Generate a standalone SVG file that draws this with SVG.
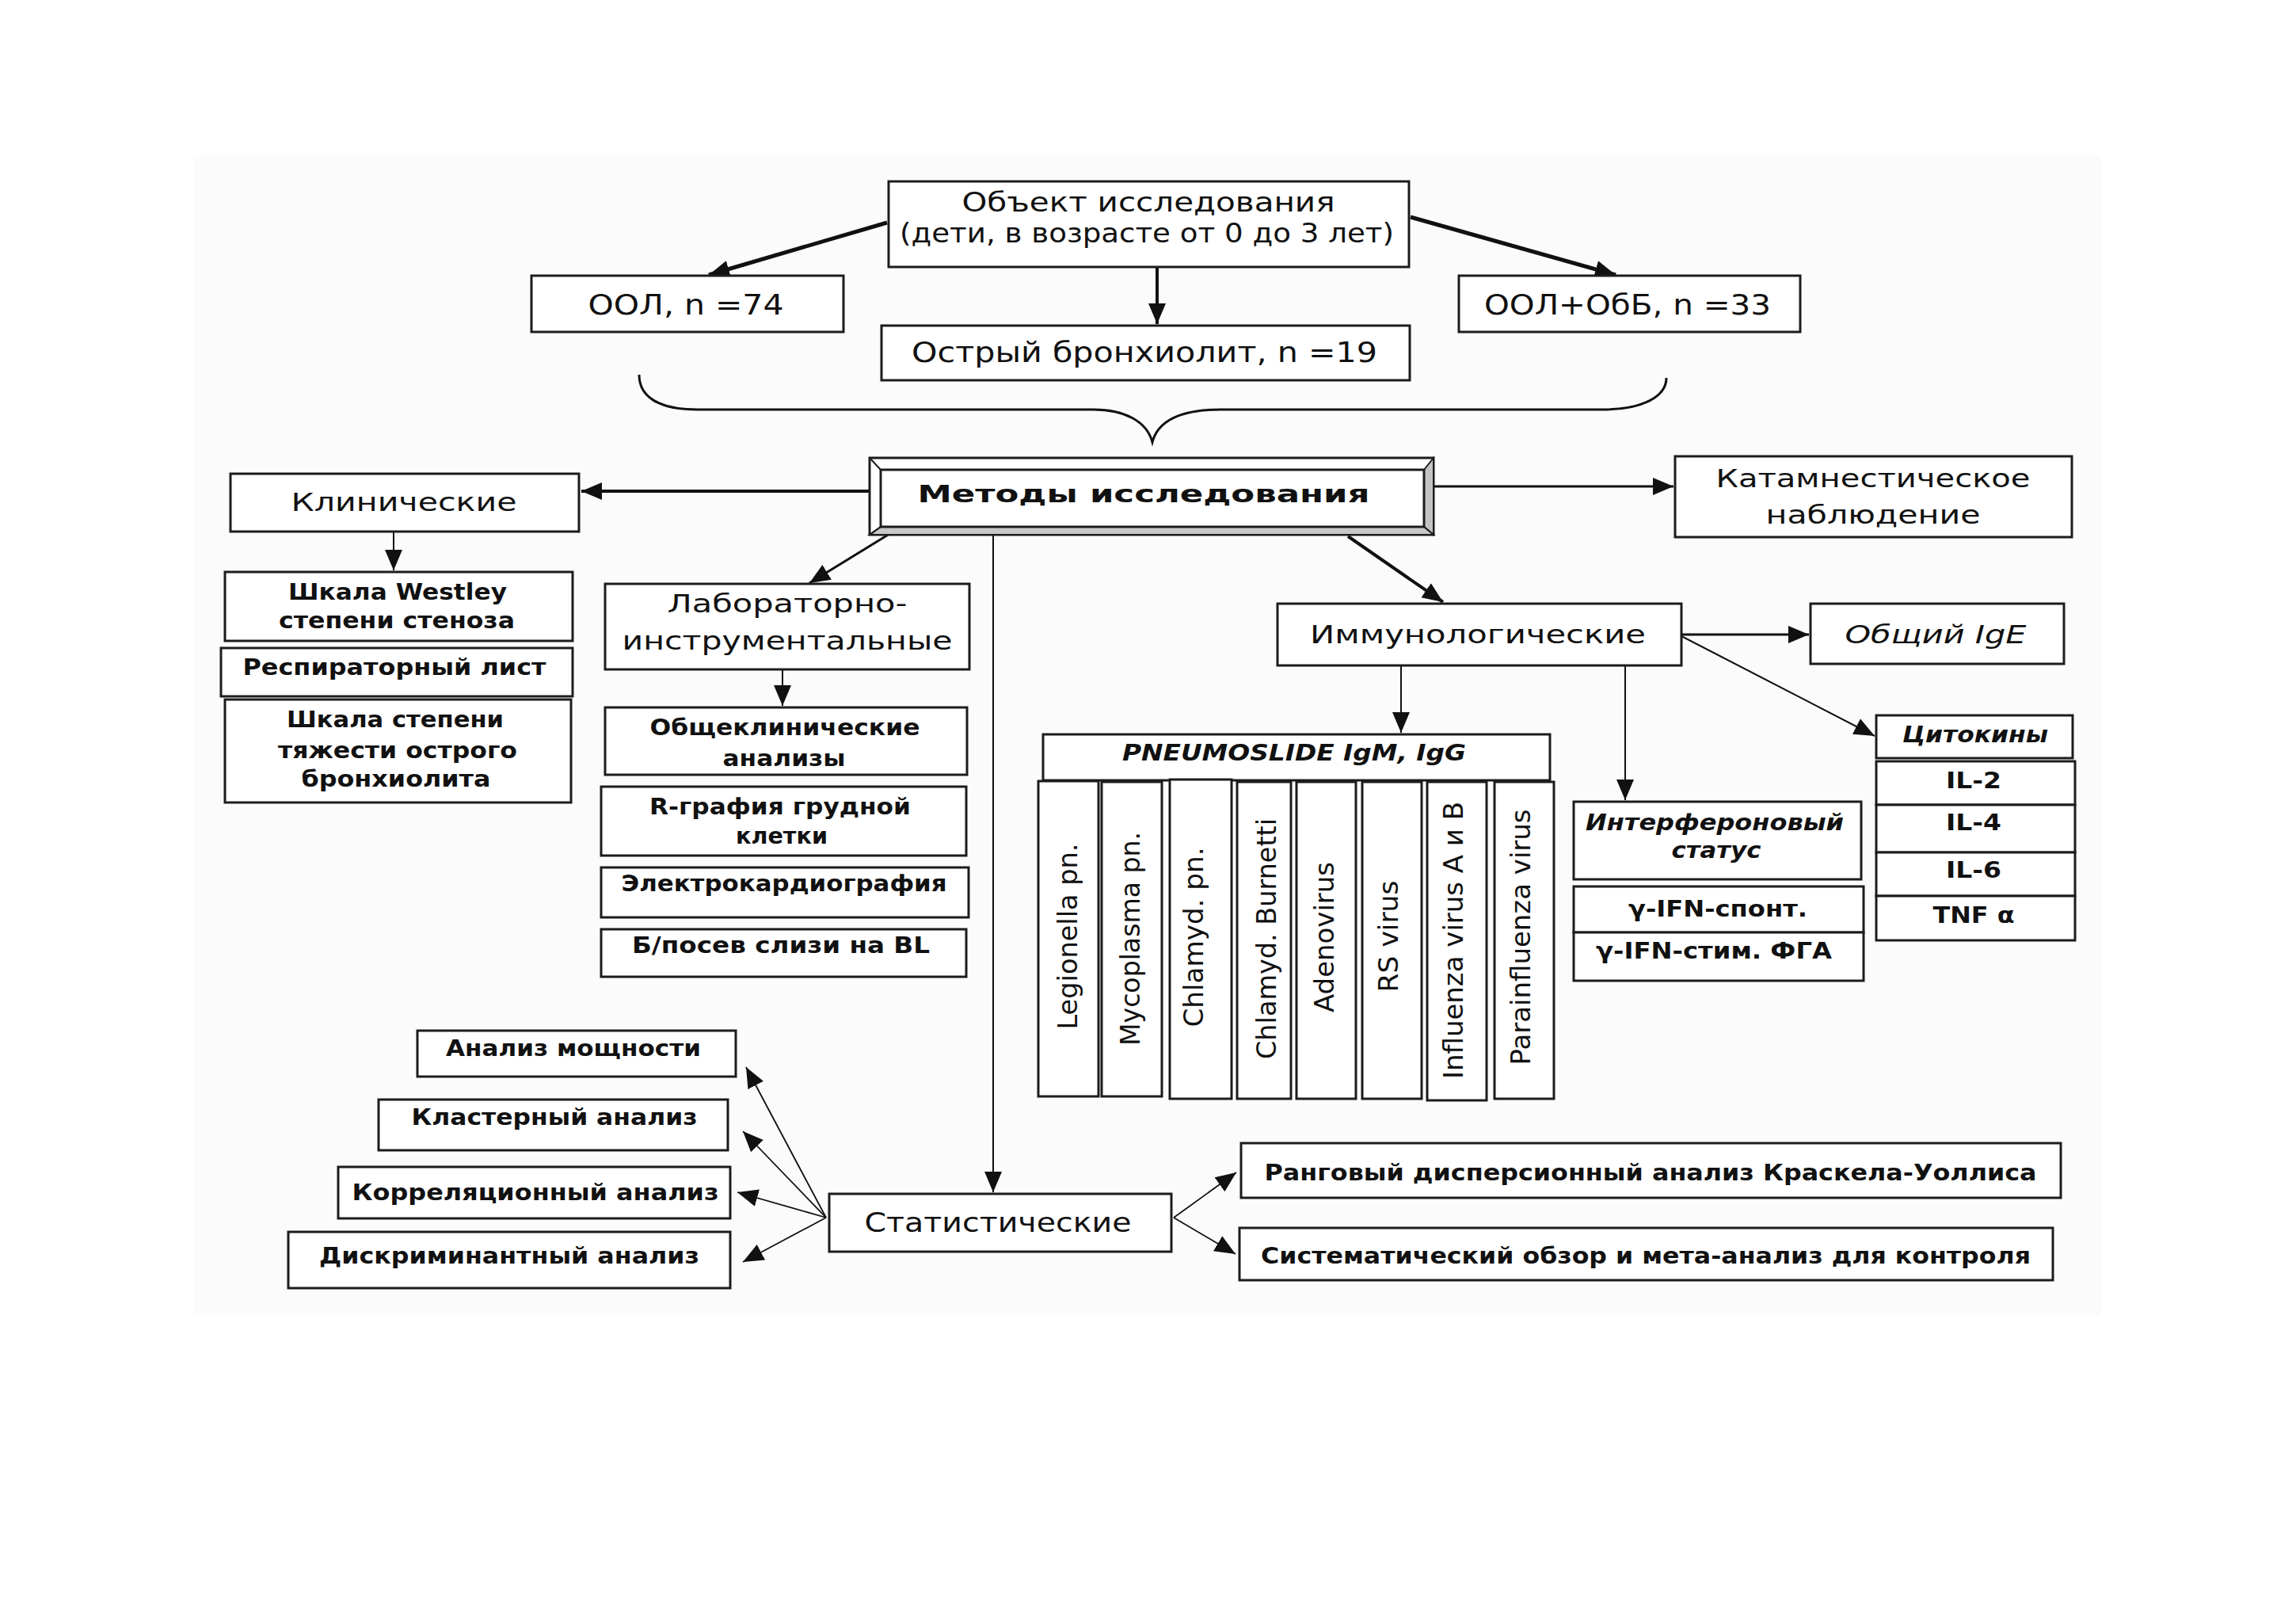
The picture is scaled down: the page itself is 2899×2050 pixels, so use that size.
<svg xmlns="http://www.w3.org/2000/svg" width="2899" height="2050" viewBox="0 0 2899 2050">
<defs>
<style>
.bx{fill:#fff;stroke:#1c1c1c;stroke-width:3}
text{font-family:"DejaVu Sans",Verdana,"Liberation Sans",sans-serif;fill:#111;text-anchor:middle}
.r{font-size:33px}
.b{font-size:28px;font-weight:bold}
.i{font-style:italic}
.ln{fill:none;stroke:#111;stroke-width:2}
.a{marker-end:url(#ah)}
</style>
<marker id="ah" markerUnits="userSpaceOnUse" markerWidth="30" markerHeight="26" refX="26" refY="12" orient="auto" viewBox="0 0 30 26"><path d="M0,1 L26,12 L0,23 z" fill="#111"/></marker>
</defs>
<rect x="0" y="0" width="2899" height="2050" fill="#fff"/>
<rect x="244" y="196" width="2409" height="1464" fill="#fbfbfb"/>

<g id="connectors">
<path class="ln a" style="stroke-width:5" d="M1120,281 L895,347"/>
<path class="ln a" style="stroke-width:4" d="M1461,337 L1461,409"/>
<path class="ln a" style="stroke-width:5" d="M1781,274 L2040,347"/>
<path class="ln" style="stroke-width:3" d="M807,473 C807,500 830,517 881,517 L1381,517 C1420,517 1448,532 1455,558 C1462,532 1490,517 1541,517 L2024,517 C2075,517 2104,500 2104,477"/>
<path class="ln a" style="stroke-width:4" d="M1098,620 L734,620"/>
<path class="ln a" style="stroke-width:3" d="M1810,614 L2113,614"/>
<path class="ln a" d="M497,671 L497,720"/>
<path class="ln a" style="stroke-width:3" d="M1123,674 L1022,736"/>
<path class="ln a" d="M988,845 L988,891"/>
<path class="ln a" d="M1254,675 L1254,1505"/>
<path class="ln a" style="stroke-width:4" d="M1702,677 L1822,760"/>
<path class="ln a" style="stroke-width:3" d="M2123,801 L2284,801"/>
<path class="ln a" d="M2123,803 L2367,929"/>
<path class="ln a" d="M1769,840 L1769,925"/>
<path class="ln a" d="M2052,840 L2052,1010"/>
<path class="ln a" style="stroke-width:1.8" d="M1043,1537 L942,1347"/>
<path class="ln a" style="stroke-width:1.8" d="M1043,1537 L938,1428"/>
<path class="ln a" style="stroke-width:1.8" d="M1043,1537 L931,1505"/>
<path class="ln a" style="stroke-width:1.8" d="M1043,1537 L938,1593"/>
<path class="ln a" style="stroke-width:1.8" d="M1482,1537 L1561,1480"/>
<path class="ln a" style="stroke-width:1.8" d="M1482,1537 L1560,1583"/>
</g>

<g id="object">
<rect class="bx" x="1122" y="229" width="657" height="108"/>
<text class="r" x="1450" y="267" style="font-size:34px" textLength="471" lengthAdjust="spacingAndGlyphs">Объект исследования</text>
<text class="r" x="1448" y="306" style="font-size:34px" textLength="624" lengthAdjust="spacingAndGlyphs">(дети, в возрасте от 0 до 3 лет)</text>
</g>
<g id="ool">
<rect class="bx" x="671" y="348" width="394" height="71"/>
<text class="r" x="866" y="397" style="font-size:35px" textLength="247" lengthAdjust="spacingAndGlyphs">ООЛ, n =74</text>
</g>
<g id="bronch">
<rect class="bx" x="1113" y="411" width="667" height="69"/>
<text class="r" x="1445" y="457" style="font-size:35px" textLength="588" lengthAdjust="spacingAndGlyphs">Острый бронхиолит, n =19</text>
</g>
<g id="oolobb">
<rect class="bx" x="1842" y="348" width="431" height="71"/>
<text class="r" x="2055" y="397" style="font-size:35px" textLength="362" lengthAdjust="spacingAndGlyphs">ООЛ+ОбБ, n =33</text>
</g>

<g id="methods">
<rect class="bx" x="1098" y="578" width="712" height="97"/>
<path d="M1798,593 L1810,578 L1810,675 L1798,665 Z" fill="#c4c4c4" stroke="#1c1c1c" stroke-width="2"/>
<path d="M1112,665 L1798,665 L1810,675 L1098,675 Z" fill="#c8c8c8" stroke="#1c1c1c" stroke-width="2"/>
<path d="M1098,578 L1112,593 M1098,675 L1112,665" stroke="#1c1c1c" stroke-width="2"/>
<rect class="bx" x="1112" y="593" width="686" height="72"/>
<text class="b" x="1444" y="634" style="font-size:31px" textLength="571" lengthAdjust="spacingAndGlyphs">Методы исследования</text>
</g>

<g id="clinical">
<rect class="bx" x="291" y="598" width="440" height="73"/>
<text class="r" x="510" y="645" style="font-size:32px" textLength="285" lengthAdjust="spacingAndGlyphs">Клинические</text>
</g>
<g id="katamn">
<rect class="bx" x="2115" y="576" width="501" height="102"/>
<text class="r" x="2365" y="615" style="font-size:32px" textLength="397" lengthAdjust="spacingAndGlyphs">Катамнестическое</text>
<text class="r" x="2365" y="661" style="font-size:32px" textLength="271" lengthAdjust="spacingAndGlyphs">наблюдение</text>
</g>

<g id="westley">
<rect class="bx" x="284" y="722" width="439" height="87"/>
<text class="b" x="502" y="757" textLength="276" lengthAdjust="spacingAndGlyphs">Шкала Westley</text>
<text class="b" x="501" y="793" textLength="298" lengthAdjust="spacingAndGlyphs">степени стеноза</text>
</g>
<g id="resp">
<rect class="bx" x="279" y="818" width="444" height="61"/>
<text class="b" x="498" y="852" textLength="383" lengthAdjust="spacingAndGlyphs">Респираторный лист</text>
</g>
<g id="severity">
<rect class="bx" x="284" y="883" width="437" height="130"/>
<text class="b" x="499" y="918" textLength="274" lengthAdjust="spacingAndGlyphs">Шкала степени</text>
<text class="b" x="502" y="957" textLength="302" lengthAdjust="spacingAndGlyphs">тяжести острого</text>
<text class="b" x="500" y="993" textLength="239" lengthAdjust="spacingAndGlyphs">бронхиолита</text>
</g>

<g id="lab">
<rect class="bx" x="764" y="737" width="460" height="108"/>
<text class="r" x="994" y="773" style="font-size:32px" textLength="303" lengthAdjust="spacingAndGlyphs">Лабораторно-</text>
<text class="r" x="994" y="820" style="font-size:32px" textLength="417" lengthAdjust="spacingAndGlyphs">инструментальные</text>
</g>
<g id="general">
<rect class="bx" x="764" y="893" width="457" height="85"/>
<text class="b" x="991" y="928" textLength="341" lengthAdjust="spacingAndGlyphs">Общеклинические</text>
<text class="b" x="990" y="967" textLength="155" lengthAdjust="spacingAndGlyphs">анализы</text>
</g>
<g id="xray">
<rect class="bx" x="759" y="993" width="461" height="87"/>
<text class="b" x="985" y="1028" textLength="330" lengthAdjust="spacingAndGlyphs">R-графия грудной</text>
<text class="b" x="987" y="1065" textLength="116" lengthAdjust="spacingAndGlyphs">клетки</text>
</g>
<g id="ecg">
<rect class="bx" x="759" y="1095" width="464" height="63"/>
<text class="b" x="990" y="1125" textLength="411" lengthAdjust="spacingAndGlyphs">Электрокардиография</text>
</g>
<g id="culture">
<rect class="bx" x="759" y="1173" width="461" height="60"/>
<text class="b" x="986" y="1203" textLength="376" lengthAdjust="spacingAndGlyphs">Б/посев слизи на BL</text>
</g>

<g id="immuno">
<rect class="bx" x="1613" y="762" width="510" height="78"/>
<text class="r" x="1866" y="812" style="font-size:32px" textLength="424" lengthAdjust="spacingAndGlyphs">Иммунологические</text>
</g>
<g id="ige">
<rect class="bx" x="2286" y="762" width="320" height="76"/>
<text class="r i" x="2444" y="812" style="font-size:32px" textLength="229" lengthAdjust="spacingAndGlyphs">Общий IgE</text>
</g>
<g id="cytokines">
<rect class="bx" x="2369" y="903" width="248" height="54"/>
<text class="b i" x="2494" y="937" textLength="184" lengthAdjust="spacingAndGlyphs">Цитокины</text>
<rect class="bx" x="2369" y="961" width="251" height="55"/>
<text class="b" x="2492" y="995" textLength="70" lengthAdjust="spacingAndGlyphs">IL-2</text>
<rect class="bx" x="2369" y="1016" width="251" height="60"/>
<text class="b" x="2492" y="1048" textLength="70" lengthAdjust="spacingAndGlyphs">IL-4</text>
<rect class="bx" x="2369" y="1076" width="251" height="55"/>
<text class="b" x="2492" y="1108" textLength="70" lengthAdjust="spacingAndGlyphs">IL-6</text>
<rect class="bx" x="2369" y="1131" width="251" height="56"/>
<text class="b" x="2492" y="1165" textLength="103" lengthAdjust="spacingAndGlyphs">TNF α</text>
</g>
<g id="interferon">
<rect class="bx" x="1987" y="1012" width="363" height="98"/>
<text class="b i" x="2165" y="1048" textLength="326" lengthAdjust="spacingAndGlyphs">Интерфероновый</text>
<text class="b i" x="2167" y="1083" textLength="113" lengthAdjust="spacingAndGlyphs">статус</text>
<rect class="bx" x="1987" y="1119" width="366" height="58"/>
<text class="b" x="2169" y="1157" textLength="226" lengthAdjust="spacingAndGlyphs">γ-IFN-спонт.</text>
<rect class="bx" x="1987" y="1177" width="366" height="61"/>
<text class="b" x="2164" y="1210" textLength="298" lengthAdjust="spacingAndGlyphs">γ-IFN-стим. ФГА</text>
</g>

<g id="pneumoslide">
<rect class="bx" x="1317" y="927" width="640" height="58"/>
<text class="b i" x="1634" y="960" textLength="434" lengthAdjust="spacingAndGlyphs">PNEUMOSLIDE IgM, IgG</text>
<rect class="bx" x="1311" y="986" width="76" height="398"/>
<rect class="bx" x="1391" y="987" width="76" height="397"/>
<rect class="bx" x="1477" y="984" width="78" height="403"/>
<rect class="bx" x="1562" y="987" width="68" height="400"/>
<rect class="bx" x="1637" y="987" width="75" height="400"/>
<rect class="bx" x="1720" y="987" width="75" height="400"/>
<rect class="bx" x="1802" y="987" width="75" height="402"/>
<rect class="bx" x="1887" y="987" width="75" height="400"/>
<text class="r" transform="translate(1360,1182) rotate(-90)" textLength="235" lengthAdjust="spacingAndGlyphs">Legionella pn.</text>
<text class="r" transform="translate(1439,1185) rotate(-90)" textLength="270" lengthAdjust="spacingAndGlyphs">Mycoplasma pn.</text>
<text class="r" transform="translate(1519,1183) rotate(-90)" textLength="227" lengthAdjust="spacingAndGlyphs">Chlamyd. pn.</text>
<text class="r" transform="translate(1611,1185) rotate(-90)" textLength="304" lengthAdjust="spacingAndGlyphs">Chlamyd. Burnetti</text>
<text class="r" transform="translate(1684,1183) rotate(-90)" textLength="190" lengthAdjust="spacingAndGlyphs">Adenovirus</text>
<text class="r" transform="translate(1765,1182) rotate(-90)" textLength="141" lengthAdjust="spacingAndGlyphs">RS virus</text>
<text class="r" transform="translate(1847,1187) rotate(-90)" textLength="350" lengthAdjust="spacingAndGlyphs">Influenza virus A и B</text>
<text class="r" transform="translate(1932,1183) rotate(-90)" textLength="323" lengthAdjust="spacingAndGlyphs">Parainfluenza virus</text>
</g>

<g id="power">
<rect class="bx" x="527" y="1301" width="402" height="58"/>
<text class="b" x="724" y="1333" textLength="322" lengthAdjust="spacingAndGlyphs">Анализ мощности</text>
</g>
<g id="cluster">
<rect class="bx" x="478" y="1388" width="441" height="64"/>
<text class="b" x="700" y="1420" textLength="361" lengthAdjust="spacingAndGlyphs">Кластерный анализ</text>
</g>
<g id="correl">
<rect class="bx" x="427" y="1473" width="495" height="65"/>
<text class="b" x="676" y="1515" textLength="463" lengthAdjust="spacingAndGlyphs">Корреляционный анализ</text>
</g>
<g id="discr">
<rect class="bx" x="364" y="1555" width="558" height="71"/>
<text class="b" x="643" y="1595" textLength="480" lengthAdjust="spacingAndGlyphs">Дискриминантный анализ</text>
</g>
<g id="stat">
<rect class="bx" x="1047" y="1507" width="432" height="73"/>
<text class="r" x="1260" y="1555" textLength="337" lengthAdjust="spacingAndGlyphs">Статистические</text>
</g>
<g id="kruskal">
<rect class="bx" x="1567" y="1443" width="1035" height="69"/>
<text class="b" x="2084" y="1490" textLength="975" lengthAdjust="spacingAndGlyphs">Ранговый дисперсионный анализ Краскела-Уоллиса</text>
</g>
<g id="meta">
<rect class="bx" x="1565" y="1550" width="1027" height="66"/>
<text class="b" x="2078" y="1595" textLength="972" lengthAdjust="spacingAndGlyphs">Систематический обзор и мета-анализ для контроля</text>
</g>
</svg>
